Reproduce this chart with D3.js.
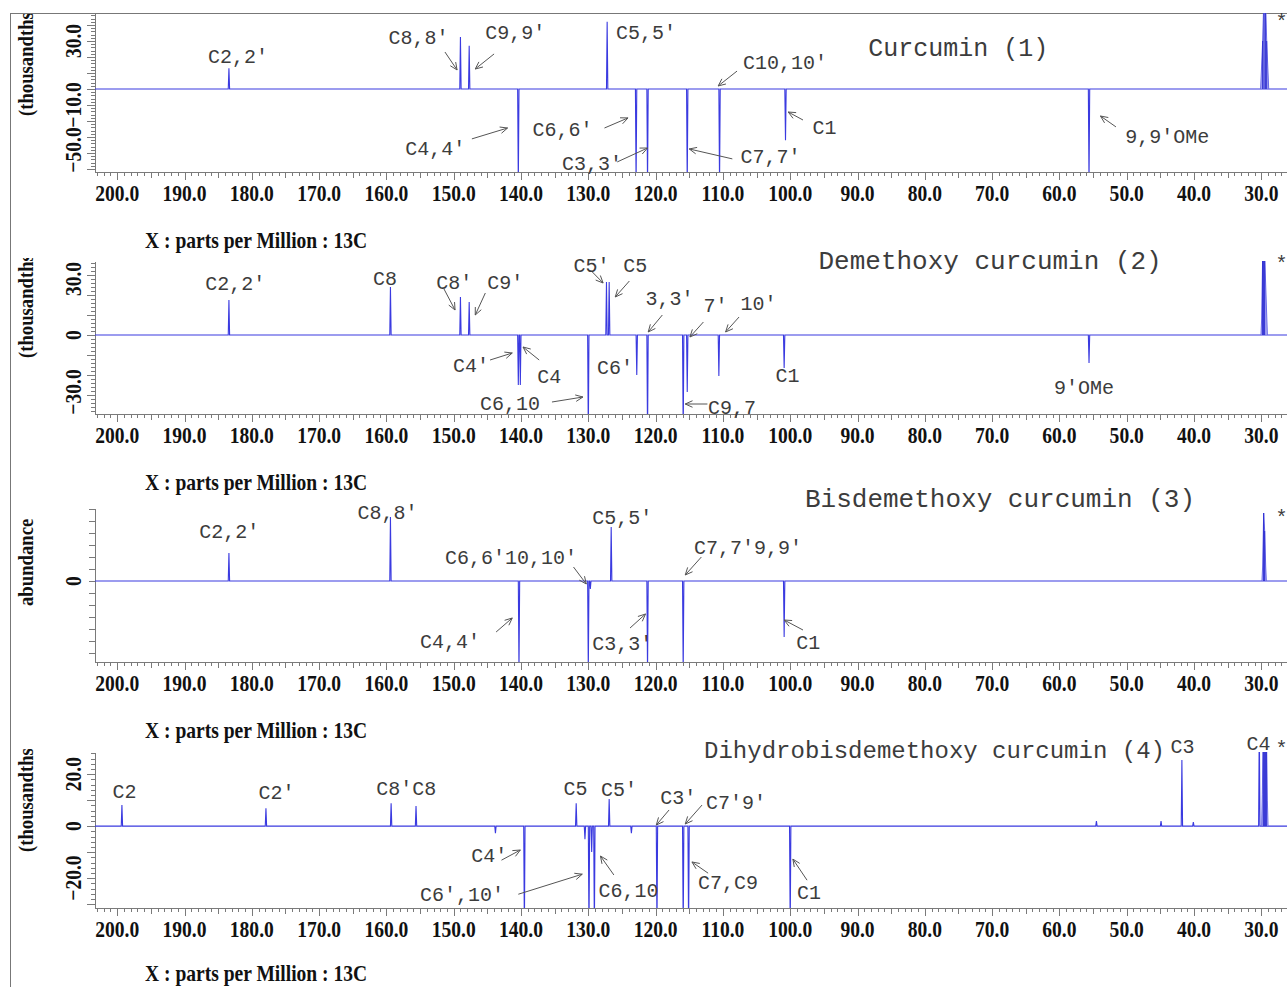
<!DOCTYPE html>
<html>
<head>
<meta charset="utf-8">
<title>13C DEPT spectra of curcuminoids</title>
<script src="https://d3js.org/d3.v7.min.js"></script>
<style>
  body { margin: 0; background: #fff; }
  svg { display: block; }
  .mono { font-family: "Liberation Mono", "DejaVu Sans Mono", monospace; fill: #3c3c3c; }
  .serif { font-family: "Liberation Serif", "Times New Roman", serif; font-weight: bold; fill: #111; }
  .axis path, .axis line { stroke: #7a7a7a; shape-rendering: crispEdges; }
</style>
</head>
<body>
<svg id="chart" width="1287" height="987"></svg>
<script>
// ---- data (ppm, intensity in axis units) ----
const xTicks = [200, 190, 180, 170, 160, 150, 140, 130, 120, 110, 100, 90, 80, 70, 60, 50, 40, 30];
const titles = ["Curcumin (1)", "Demethoxy curcumin (2)", "Bisdemethoxy curcumin (3)", "Dihydrobisdemethoxy curcumin (4)"];
const yNames = ["(thousandths)", "(thousandths)", "abundance", "(thousandths)"];
const yTickLabels = [[30, -10, -50], [30, 0, -30], [0], [20, 0, -20]];

const peaks1 = [[183.4, 13], [149.0, 32.5], [147.7, 27], [140.4, -60], [127.2, 42], [122.9, -60],
  [121.2, -60], [115.3, -60], [110.5, -60], [100.7, -32], [55.6, -60]];
const solvent1 = [[30.0, 10], [29.8, 30], [29.6, 60], [29.4, 60], [29.2, 30], [29.0, 10]];

const peaks2 = [[183.4, 17.5], [159.4, 24], [149.0, 19], [147.7, 16.5], [140.4, -25], [140.1, -25],
  [130.0, -50], [127.3, 26.5], [126.9, 26.5], [122.8, -20], [121.2, -50], [115.9, -50], [115.3, -28.5],
  [110.6, -20.5], [100.9, -16.5], [55.6, -14]];
const solvent2 = [[29.95, 8], [29.8, 40], [29.65, 40], [29.5, 40], [29.35, 25], [29.2, 10]];

const peaks3 = [[183.4, 28], [159.4, 64], [140.3, -90], [130.0, -90], [129.7, -8], [126.6, 54],
  [121.2, -90], [115.9, -90], [100.9, -56]];
const solvent3 = [[29.8, 15], [29.65, 68], [29.5, 50], [29.35, 15]];

const peaks4 = [[199.3, 8.1], [177.9, 6.9], [159.3, 8.8], [155.6, 7.7], [143.8, -2.7], [139.5, -40],
  [131.8, 8.8], [130.5, -5], [129.9, -40], [129.5, -10], [129.1, -40], [126.9, 10.4], [123.6, -2.7],
  [119.8, -40], [115.9, -40], [115.1, -40], [100.0, -40], [54.5, 1.9], [44.9, 1.9], [41.8, 25.4],
  [40.1, 1.5], [30.3, 40]];
const solvent4 = [[29.85, 12], [29.7, 40], [29.55, 40], [29.4, 40], [29.25, 40], [29.1, 10]];

// peak labels: [text, ppm at left edge, value at baseline]
const labels1 = [["C2,2'", 186.5, 16.2], ["C8,8'", 159.7, 28.1], ["C9,9'", 145.3, 31.2], ["C5,5'", 125.9, 31.2],
  ["C10,10'", 107.0, 12.5], ["C4,4'", 157.2, -41.2], ["C6,6'", 138.3, -29.4], ["C3,3'", 133.9, -50.6],
  ["C1", 96.7, -28.1], ["C7,7'", 107.4, -46.2], ["9,9'OMe", 50.2, -33.7]];
const labels2 = [["C2,2'", 186.9, 22.5], ["C8", 162.0, 25], ["C8'", 152.6, 23], ["C9'", 145.0, 23],
  ["C5'", 132.2, 31.5], ["C5", 124.8, 31.5], ["3,3'", 121.5, 15], ["7'", 112.9, 11.5], ["10'", 107.4, 12.5],
  ["C4'", 150.1, -18.5], ["C4", 137.6, -24], ["C6'", 128.7, -19.5], ["C1", 102.2, -23.5],
  ["C6,10", 146.1, -37.5], ["C9,7", 112.2, -39.5], ["9'OMe", 60.8, -29.5]];
const labels3 = [["C2,2'", 187.8, 43], ["C8,8'", 164.3, 62], ["C6,6'10,10'", 151.3, 17], ["C5,5'", 129.4, 57],
  ["C4,4'", 155.0, -67], ["C3,3'", 129.4, -69], ["C7,7'9,9'", 114.3, 27], ["C1", 99.1, -68]];
const labels4 = [["C2", 200.7, 10.8], ["C2'", 179.0, 10.4], ["C8'C8", 161.5, 11.9], ["C5", 133.7, 11.9],
  ["C5'", 128.1, 11.5], ["C3'", 119.3, 8.5], ["C7'9'", 112.5, 6.5], ["C4'", 147.4, -13.8],
  ["C6',10'", 155.0, -28.8], ["C6,10", 128.5, -27.3], ["C7,C9", 113.7, -24.2], ["C1", 99.0, -28.1],
  ["C3", 43.5, 28.1], ["C4", 32.2, 29.2]];

// title and star anchors: [ppm, value]
const titlePos = [[88.4, 20.6], [95.8, 33], [97.8, 74], [112.8, 26.2]];
const starPos = [[27.9, 38], [27.9, 32.5], [27.9, 57], [27.9, 27.3]];

// arrows: [ppm from, value from, ppm to, value to]
const arrows1 = [[151.3, 23.1, 149.5, 11.9], [144.0, 21.9, 146.8, 12.5], [107.9, 11.2, 110.7, 1.9],
  [147.3, -31.2, 142.0, -24.4], [127.6, -24.4, 124.1, -18.1], [125.7, -45.6, 121.2, -36.9],
  [108.6, -43.7, 115.0, -37.5], [98.1, -19.4, 100.3, -14.4], [51.6, -23.7, 53.9, -16.9]];
const arrows2 = [[151.6, 24, 149.8, 12.5], [145.3, 21, 146.8, 10], [129.4, 31.5, 127.8, 26],
  [123.9, 27, 126.0, 19], [119.0, 10, 121.1, 1.5], [112.9, 6.5, 114.9, -1], [107.6, 9, 109.6, 1.5],
  [144.6, -12.5, 141.3, -9], [137.3, -12.5, 139.7, -6], [135.4, -33.5, 130.8, -31], [112.3, -34.5, 115.6, -34.5]];
const arrows3 = [[132.2, 14, 130.3, -3], [143.7, -51, 141.3, -37], [123.8, -47, 121.5, -33],
  [113.2, 24, 115.6, 6], [98.1, -49, 100.9, -39]];
const arrows4 = [[142.9, -13.1, 140.1, -9.2], [140.4, -26.2, 130.9, -18.5], [126.2, -18.8, 128.2, -11.5],
  [118.0, 6.2, 119.9, 0.4], [113.1, 8.1, 115.6, 0.8], [112.2, -18.1, 114.6, -13.8], [97.5, -20.8, 99.6, -12.7]];

const peaks = [peaks1, peaks2, peaks3, peaks4];
const solvents = [solvent1, solvent2, solvent3, solvent4];
const labels = [labels1, labels2, labels3, labels4];
const arrows = [arrows1, arrows2, arrows3, arrows4];

// ---- layout ----
const W = 1287, H = 987;
const plotLeft = 95;
const panels = [
  { top: 13, bottom: 172, yDomain: [-51.9, 47.5], major: 10, minor: 2, titleSize: 25 },
  { top: 261, bottom: 414, yDomain: [-39.5, 37], major: 10, minor: 2, titleSize: 26 },
  { top: 508, bottom: 662, yDomain: [-81, 73], major: 12, minor: 12, titleSize: 26 },
  { top: 752, bottom: 908, yDomain: [-31.5, 28.5], major: 10, minor: 2, titleSize: 24 }
];
const lineColor = "#3a3ae0";
const xDomain = [203.3, 25];
const x = d3.scaleLinear().domain(xDomain).range([plotLeft, plotLeft + 178.3 * 6.73]);

const svg = d3.select("#chart");
const defs = svg.append("defs");

// outer frame
svg.append("line").attr("x1", 10.5).attr("x2", 10.5).attr("y1", 13).attr("y2", H)
  .attr("stroke", "#777").attr("stroke-width", 1);
svg.append("line").attr("x1", 10).attr("x2", W).attr("y1", 13.5).attr("y2", 13.5)
  .attr("stroke", "#777").attr("stroke-width", 1);

function fmt(v) {
  if (v === 0) return "0";
  return (v < 0 ? "\u2212" : "") + Math.abs(v).toFixed(1);
}

// condensed serif text helper
function serifText(g, str, px, py, size, anchor, rotate) {
  const t = g.append("g")
    .attr("transform", `translate(${px},${py})` + (rotate ? " rotate(-90)" : "") + " scale(0.85,1)");
  return t.append("text").attr("class", "serif").attr("font-size", size)
    .attr("text-anchor", anchor).text(str);
}

function arrow(g, sx, sy, tx, ty) {
  const a = Math.atan2(ty - sy, tx - sx), L = 8, s = 0.42;
  g.append("line").attr("x1", sx).attr("y1", sy).attr("x2", tx).attr("y2", ty)
    .attr("stroke", "#555").attr("stroke-width", 1);
  g.append("path")
    .attr("d", `M${tx - L * Math.cos(a - s)},${ty - L * Math.sin(a - s)}L${tx},${ty}L${tx - L * Math.cos(a + s)},${ty - L * Math.sin(a + s)}`)
    .attr("fill", "none").attr("stroke", "#555").attr("stroke-width", 1);
}

panels.forEach((p, i) => {
  const g = svg.append("g");
  const y = d3.scaleLinear().domain(p.yDomain).range([p.bottom, p.top]);

  // clip for the trace and for the y name
  defs.append("clipPath").attr("id", "clip" + i)
    .append("rect").attr("x", plotLeft).attr("y", p.top).attr("width", W - plotLeft).attr("height", p.bottom - p.top);
  defs.append("clipPath").attr("id", "lclip" + i)
    .append("rect").attr("x", 12).attr("y", p.top + (i === 0 ? 1 : -3)).attr("width", 40).attr("height", p.bottom - p.top + 3);

  // x axis
  const minorX = d3.range(203, 24, -1);
  const midX = d3.range(195, 24, -10);
  g.append("g").attr("class", "axis").attr("transform", `translate(0,${p.bottom})`)
    .call(d3.axisBottom(x).tickValues(minorX).tickSize(4).tickSizeOuter(0).tickFormat(""));
  g.append("g").attr("class", "axis").attr("transform", `translate(0,${p.bottom})`)
    .call(d3.axisBottom(x).tickValues(midX).tickSize(6).tickSizeOuter(0).tickFormat(""))
    .select(".domain").remove();
  g.append("g").attr("class", "axis").attr("transform", `translate(0,${p.bottom})`)
    .call(d3.axisBottom(x).tickValues(xTicks).tickSize(8).tickSizeOuter(0).tickFormat(""))
    .select(".domain").remove();
  xTicks.forEach(v => serifText(g, v.toFixed(1), x(v), p.bottom + 29, 23, "middle", false));
  serifText(g, "X : parts per Million : 13C", 145, Math.min(p.bottom + 76, H - 6), 23, "start", false);

  // y axis
  const lo = Math.ceil(p.yDomain[0] / p.minor) * p.minor;
  const minorY = d3.range(lo, p.yDomain[1], p.minor);
  const majorY = minorY.filter(v => Math.abs(v % p.major) < 1e-6);
  g.append("g").attr("class", "axis").attr("transform", `translate(${plotLeft},0)`)
    .call(d3.axisLeft(y).tickValues(minorY).tickSize(4).tickSizeOuter(0).tickFormat(""));
  g.append("g").attr("class", "axis").attr("transform", `translate(${plotLeft},0)`)
    .call(d3.axisLeft(y).tickValues(majorY).tickSize(i === 2 ? 6 : 8).tickSizeOuter(0).tickFormat(""))
    .select(".domain").remove();
  yTickLabels[i].forEach(v => {
    const cy = Math.max(Math.min(y(v), p.bottom - 22), p.top + 18);
    serifText(g, fmt(v), 81, cy, 23, "middle", true);
  });
  const yl = g.append("g").attr("clip-path", `url(#lclip${i})`);
  serifText(yl, yNames[i], 33, p.bottom - 56, 22, "start", true);

  // spectrum trace
  const w = 0.1;
  const pts = [[xDomain[0], 0]];
  peaks[i].slice().sort((a, b) => b[0] - a[0]).forEach(d => {
    pts.push([d[0] + w, 0], [d[0], d[1]], [d[0] - w, 0]);
  });
  pts.push([xDomain[1], 0]);
  const line = d3.line().x(d => x(d[0])).y(d => y(d[1]));
  const trace = g.append("g").attr("clip-path", `url(#clip${i})`);
  trace.append("path").attr("d", line(pts)).attr("fill", "none")
    .attr("stroke", lineColor).attr("stroke-width", 1.1);

  // solvent multiplet (filled envelope)
  const sv = solvents[i];
  const env = [[sv[0][0] + w, 0]].concat(sv, [[sv[sv.length - 1][0] - w, 0]]);
  trace.append("path").attr("d", line(env))
    .attr("fill", "#9a9af2").attr("fill-opacity", 0.8)
    .attr("stroke", "#6a6ae8").attr("stroke-width", 1);
  sv.filter(d => d[1] >= 30).forEach(d => {
    trace.append("line").attr("x1", x(d[0])).attr("x2", x(d[0])).attr("y1", y(0)).attr("y2", y(d[1]))
      .attr("stroke", "#2a2ad0").attr("stroke-width", 1);
  });

  // annotations
  labels[i].forEach(d => {
    g.append("text").attr("class", "mono").attr("font-size", 20)
      .attr("x", x(d[1])).attr("y", y(d[2])).text(d[0]);
  });
  arrows[i].forEach(d => arrow(g, x(d[0]), y(d[1]), x(d[2]), y(d[3])));

  g.append("text").attr("class", "mono").attr("font-size", p.titleSize).attr("fill", "#444")
    .attr("x", x(titlePos[i][0])).attr("y", y(titlePos[i][1])).text(titles[i]);
  g.append("text").attr("class", "mono").attr("font-size", 20)
    .attr("x", x(starPos[i][0])).attr("y", y(starPos[i][1])).text("*");
});
</script>
</body>
</html>
